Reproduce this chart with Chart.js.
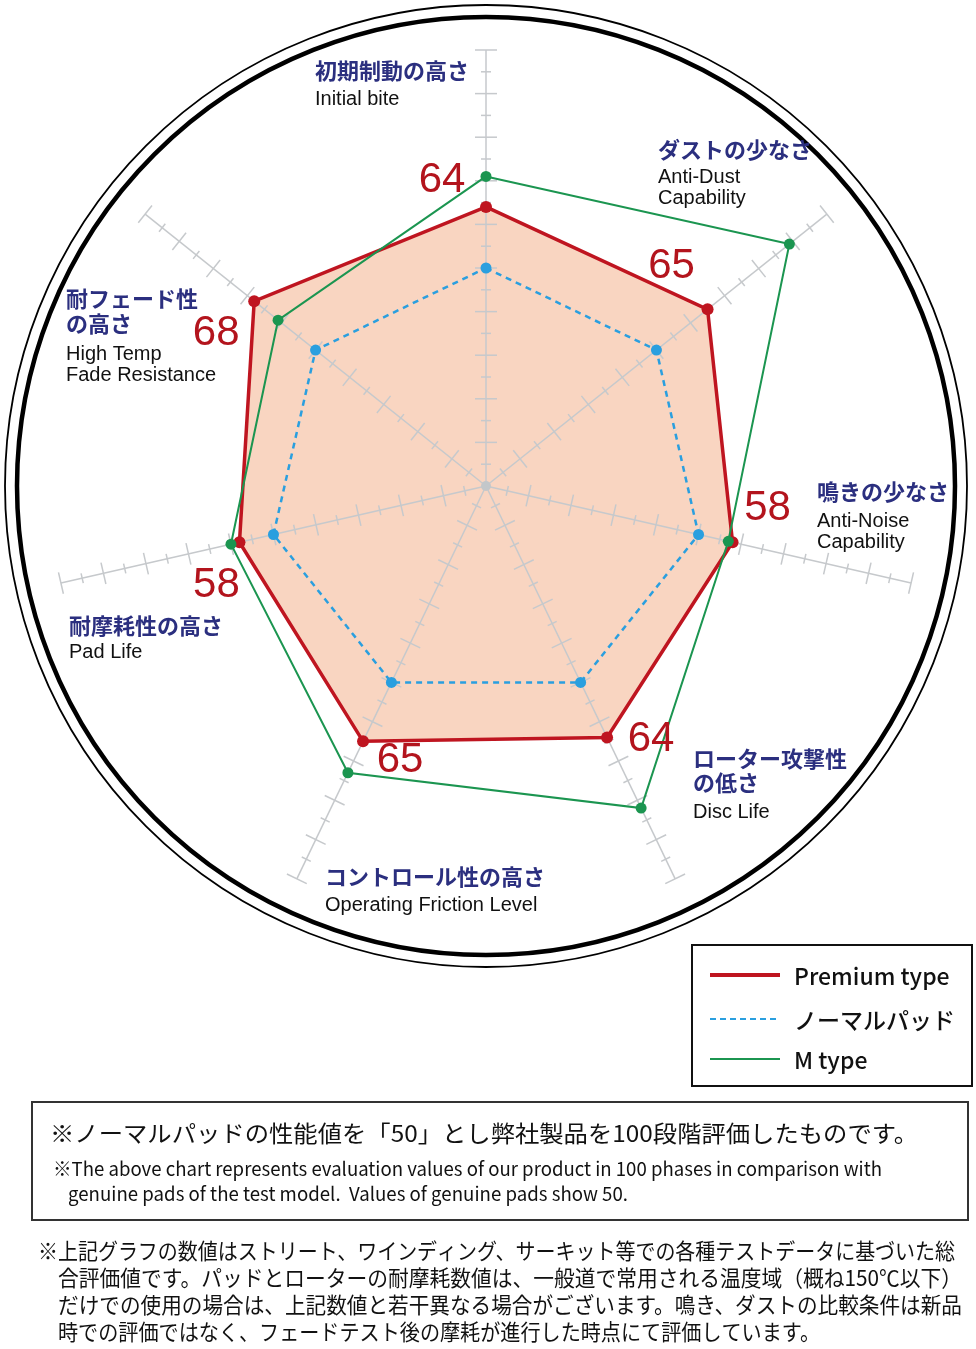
<!DOCTYPE html>
<html>
<head>
<meta charset="utf-8">
<script src="https://cdn.jsdelivr.net/npm/chart.js@4.4.1/dist/chart.umd.min.js"></script>
<style>
  html, body { margin: 0; padding: 0; background: #ffffff; }
  #wrap { width: 976px; height: 1349px; position: relative; }
</style>
</head>
<body>
<div id="wrap"><canvas id="c" width="976" height="1349"></canvas></div>
<script>
// ---------------- DATA ----------------
const categoriesJa = [
  ['初期制動の高さ'],
  ['ダストの少なさ'],
  ['鳴きの少なさ'],
  ['ローター攻撃性', 'の低さ'],
  ['コントロール性の高さ'],
  ['耐摩耗性の高さ'],
  ['耐フェード性', 'の高さ']
];
const categoriesEn = [
  ['Initial bite'],
  ['Anti-Dust', 'Capability'],
  ['Anti-Noise', 'Capability'],
  ['Disc Life'],
  ['Operating Friction Level'],
  ['Pad Life'],
  ['High Temp', 'Fade Resistance']
];
const seriesNames = ['Premium type', 'ノーマルパッド', 'M type'];
const premiumValues = [64, 65, 58, 64, 65, 58, 68];
const normalValues  = [50, 50, 50, 50, 50, 50, 50];
const mTypeValues   = [71, 89, 57, 82, 73, 60, 61];
const scaleMin = 0;
const scaleMax = 100;
const tickStep = 5;

const noteBoxLines = [
  '※ノーマルパッドの性能値を「50」とし弊社製品を100段階評価したものです。',
  '※The above chart represents evaluation values of our product in 100 phases in comparison with',
  'genuine pads of the test model.  Values of genuine pads show 50.'
];
const footnoteLines = [
  '※上記グラフの数値はストリート、ワインディング、サーキット等での各種テストデータに基づいた総',
  '合評価値です。パッドとローターの耐摩耗数値は、一般道で常用される温度域（概ね150℃以下）',
  'だけでの使用の場合は、上記数値と若干異なる場合がございます。鳴き、ダストの比較条件は新品',
  '時での評価ではなく、フェードテスト後の摩耗が進行した時点にて評価しています。'
];

// ---------------- LAYOUT (positions / styles) ----------------
const COLORS = {
  premium: '#bf1520',
  fill: '#f9d5c1',
  normal: '#2a9fdf',
  mtype: '#1b9550',
  spoke: '#c6c9cc',
  navy: '#2b2f7f',
  value: '#b3141d'
};
// category label anchor (left x, centers of each line)
const labelLayout = [
  { x: 315, ja: [71], en: [99] },
  { x: 658, ja: [150], en: [177, 198] },
  { x: 817, ja: [492], en: [521, 542] },
  { x: 693, ja: [759, 783], en: [812] },
  { x: 325, ja: [877], en: [905] },
  { x: 69,  ja: [626], en: [652] },
  { x: 66,  ja: [299, 324], en: [354, 375] }
];
// offsets of premium value numbers from their points
const valueOffsets = [[-44, -27], [-36, -43], [35, -34], [44, 2], [37, 19], [-23, 43], [-38, 32]];

function fitText(ctx, text, x, y, w) {
  const m = ctx.measureText(text).width;
  ctx.save();
  ctx.translate(x, y);
  ctx.scale(w / m, 1);
  ctx.fillText(text, 0, 0);
  ctx.restore();
}

const decorPlugin = {
  id: 'decor',
  beforeDraw(chart) {
    const ctx = chart.ctx;
    const s = chart.scales.r;
    ctx.save();
    ctx.fillStyle = '#ffffff';
    ctx.fillRect(0, 0, chart.width, chart.height);
    ctx.strokeStyle = '#000';
    ctx.lineWidth = 4.5;
    ctx.beginPath(); ctx.arc(s.xCenter, s.yCenter, 469, 0, Math.PI * 2); ctx.stroke();
    ctx.lineWidth = 1.8;
    ctx.beginPath(); ctx.arc(s.xCenter, s.yCenter, 481, 0, Math.PI * 2); ctx.stroke();
    ctx.restore();
  },
  afterDatasetDraw(chart, args) {
    if (args.index !== 0) return;
    const ctx = chart.ctx;
    const s = chart.scales.r;
    const cx = s.xCenter, cy = s.yCenter;
    ctx.save();
    ctx.strokeStyle = COLORS.spoke;
    ctx.lineWidth = 1.5;
    for (let i = 0; i < categoriesEn.length; i++) {
      const end = s.getPointPositionForValue(i, scaleMax);
      ctx.beginPath(); ctx.moveTo(cx, cy); ctx.lineTo(end.x, end.y); ctx.stroke();
      const ang = s.getIndexAngle(i) - Math.PI / 2;
      const px = -Math.sin(ang), py = Math.cos(ang);
      for (let v = scaleMin + tickStep; v <= scaleMax; v += tickStep) {
        const p = s.getPointPositionForValue(i, v);
        const h = (v % 10 === 0) ? 11 : 5;
        ctx.beginPath();
        ctx.moveTo(p.x - px * h, p.y - py * h);
        ctx.lineTo(p.x + px * h, p.y + py * h);
        ctx.stroke();
      }
    }
    ctx.fillStyle = '#c3c7ca';
    ctx.beginPath(); ctx.arc(cx, cy, 5, 0, Math.PI * 2); ctx.fill();
    ctx.restore();
  },
  afterDraw(chart) {
    const ctx = chart.ctx;
    const s = chart.scales.r;
    ctx.save();
    // category labels
    ctx.textBaseline = 'middle';
    ctx.textAlign = 'left';
    labelLayout.forEach((L, i) => {
      ctx.fillStyle = COLORS.navy;
      ctx.font = "bold 22px 'Noto Sans CJK JP'";
      categoriesJa[i].forEach((t, k) => ctx.fillText(t, L.x, L.ja[k]));
      ctx.fillStyle = '#111';
      ctx.font = "20px 'Liberation Sans'";
      categoriesEn[i].forEach((t, k) => ctx.fillText(t, L.x, L.en[k]));
    });
    // premium values
    ctx.fillStyle = COLORS.value;
    ctx.font = "42px 'Liberation Sans'";
    ctx.textAlign = 'center';
    premiumValues.forEach((v, i) => {
      const p = s.getPointPositionForValue(i, v);
      ctx.fillText(String(v), p.x + valueOffsets[i][0], p.y + valueOffsets[i][1]);
    });
    // legend
    ctx.textAlign = 'left';
    ctx.strokeStyle = '#111';
    ctx.lineWidth = 2;
    ctx.strokeRect(692, 945, 280, 141);
    const legY = [975, 1019, 1059];
    const legStyles = [
      { c: COLORS.premium, w: 4, d: [] },
      { c: COLORS.normal, w: 2, d: [6, 4] },
      { c: COLORS.mtype, w: 2, d: [] }
    ];
    seriesNames.forEach((n, i) => {
      ctx.strokeStyle = legStyles[i].c;
      ctx.lineWidth = legStyles[i].w;
      ctx.setLineDash(legStyles[i].d);
      ctx.beginPath(); ctx.moveTo(710, legY[i]); ctx.lineTo(780, legY[i]); ctx.stroke();
      ctx.setLineDash([]);
      ctx.fillStyle = '#111';
      ctx.font = "500 23px 'Noto Sans CJK JP'";
      ctx.fillText(n, 794, legY[i] + 1);
    });
    // note box
    ctx.strokeStyle = '#333';
    ctx.lineWidth = 2;
    ctx.strokeRect(32, 1102, 936, 118);
    ctx.fillStyle = '#111';
    ctx.font = "23px 'Noto Sans CJK JP'";
    fitText(ctx, noteBoxLines[0], 50, 1133, 868);
    ctx.font = "19px 'Noto Sans CJK JP'";
    fitText(ctx, noteBoxLines[1], 53, 1169, 829);
    fitText(ctx, noteBoxLines[2], 68, 1194, 560);
    // footnote
    ctx.font = "22px 'Noto Sans CJK JP'";
    const fx = [38, 58, 58, 58];
    const fy = [1251, 1278, 1305, 1332];
    const fw = [917, 904, 904, 762];
    footnoteLines.forEach((t, i) => fitText(ctx, t, fx[i], fy[i], fw[i]));
    ctx.restore();
  }
};

const ctx = document.getElementById('c').getContext('2d');
new Chart(ctx, {
  type: 'radar',
  data: {
    labels: categoriesEn.map(a => a.join(' ')),
    datasets: [
      {
        label: 'fill',
        data: premiumValues,
        order: 10,
        fill: true,
        backgroundColor: COLORS.fill,
        borderWidth: 0,
        borderColor: 'rgba(0,0,0,0)',
        pointRadius: 0
      },
      {
        label: seriesNames[0],
        data: premiumValues,
        order: 3,
        fill: false,
        borderColor: COLORS.premium,
        borderWidth: 3.5,
        pointRadius: 6,
        pointBackgroundColor: COLORS.premium,
        pointBorderWidth: 0
      },
      {
        label: seriesNames[1],
        data: normalValues,
        order: 2,
        fill: false,
        borderColor: COLORS.normal,
        borderWidth: 2.5,
        borderDash: [6, 5],
        pointRadius: 5.5,
        pointBackgroundColor: COLORS.normal,
        pointBorderWidth: 0
      },
      {
        label: seriesNames[2],
        data: mTypeValues,
        order: 1,
        fill: false,
        borderColor: COLORS.mtype,
        borderWidth: 2,
        pointRadius: 5.5,
        pointBackgroundColor: COLORS.mtype,
        pointBorderWidth: 0
      }
    ]
  },
  options: {
    responsive: false,
    animation: false,
    devicePixelRatio: 1,
    layout: { padding: { left: 50, top: 50, right: 54, bottom: 427 } },
    plugins: { legend: { display: false }, tooltip: { enabled: false } },
    elements: { line: { tension: 0 } },
    scales: {
      r: {
        min: scaleMin,
        max: scaleMax,
        startAngle: 0,
        ticks: { display: false, stepSize: tickStep },
        grid: { display: false },
        angleLines: { display: false },
        pointLabels: { display: false }
      }
    }
  },
  plugins: [decorPlugin]
});
</script>
</body>
</html>
